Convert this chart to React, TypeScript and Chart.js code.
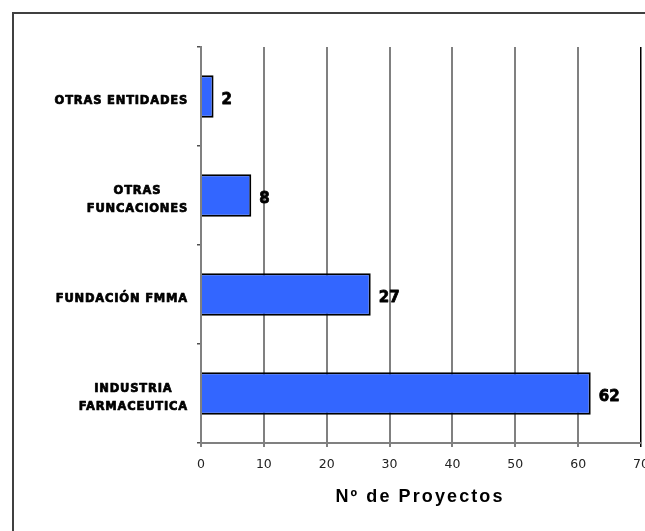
import React, { useEffect, useRef } from 'react';
import { Chart, registerables } from 'chart.js';

Chart.register(...registerables);

const categories: (string | string[])[] = [
  'OTRAS ENTIDADES',
  ['OTRAS', 'FUNCACIONES'],
  'FUNDACIÓN FMMA',
  ['INDUSTRIA', 'FARMACEUTICA'],
];
const projectCounts = [2, 8, 27, 62];
const xTicks = [0, 10, 20, 30, 40, 50, 60, 70];
const axisTitle = 'Nº de Proyectos';

const categoryLabelPlugin = {
  id: 'categoryLabels',
  afterDraw(chart: any) {
    const ctx = chart.ctx;
    const y = chart.scales.y;
    ctx.save();
    ctx.font = 'bold 11.5px "DejaVu Sans"';
    (ctx as any).letterSpacing = '0.8px';
    ctx.fillStyle = '#000';
    ctx.strokeStyle = '#000';
    ctx.lineWidth = 0.7;
    ctx.lineJoin = 'round';
    ctx.textAlign = 'center';
    ctx.textBaseline = 'alphabetic';
    const right = y.right - 13;
    const lh = 18;
    categories.forEach((lab, i) => {
      const lines = Array.isArray(lab) ? lab : [lab];
      const widths = lines.map((l) => ctx.measureText(l).width);
      const maxW = Math.max(...widths);
      const cx = right - maxW / 2;
      const cy = y.getPixelForValue(i) + 3;
      lines.forEach((l, k) => {
        const lc = cy + (k - (lines.length - 1) / 2) * lh;
        ctx.fillText(l, cx, lc + 4.2);
        ctx.strokeText(l, cx, lc + 4.2);
      });
    });
    ctx.restore();
  },
};

const valueLabelPlugin = {
  id: 'valueLabels',
  afterDatasetsDraw(chart: any) {
    const ctx = chart.ctx;
    const meta = chart.getDatasetMeta(0);
    ctx.save();
    ctx.font = 'bold 15px "DejaVu Sans"';
    ctx.fillStyle = '#000';
    ctx.strokeStyle = '#000';
    ctx.lineWidth = 0.8;
    ctx.lineJoin = 'round';
    ctx.textAlign = 'left';
    ctx.textBaseline = 'alphabetic';
    meta.data.forEach((bar: any, i: number) => {
      const t = String(projectCounts[i]);
      ctx.fillText(t, bar.x + 8, bar.y + 7.5);
      ctx.strokeText(t, bar.x + 8, bar.y + 7.5);
    });
    ctx.restore();
  },
};

const axisTitlePlugin = {
  id: 'axisTitle',
  afterDraw(chart: any) {
    const ctx = chart.ctx;
    const x = chart.scales.x;
    ctx.save();
    ctx.font = 'bold 18px "Liberation Sans"';
    (ctx as any).letterSpacing = '2.1px';
    ctx.fillStyle = '#000';
    ctx.textAlign = 'center';
    ctx.textBaseline = 'alphabetic';
    ctx.fillText(axisTitle, (x.left + x.right) / 2 - 1, x.top + 59);
    ctx.restore();
  },
};

export default function App() {
  const canvasRef = useRef<HTMLCanvasElement | null>(null);

  useEffect(() => {
    if (!canvasRef.current) return;
    const chart = new Chart(canvasRef.current, {
      type: 'bar',
      data: {
        labels: categories as any,
        datasets: [
          {
            data: projectCounts,
            backgroundColor: '#3366FF',
            borderColor: '#000000',
            borderWidth: 2,
            categoryPercentage: 0.43,
            barPercentage: 1,
          },
        ],
      },
      options: {
        indexAxis: 'y',
        animation: false,
        responsive: false,
        layout: { padding: { top: 47, left: 0, right: 59, bottom: 0 } },
        plugins: {
          legend: { display: false },
          tooltip: { enabled: false },
        },
        scales: {
          x: {
            min: 0,
            max: 70,
            afterBuildTicks(s: any) {
              s.ticks = xTicks.map((v) => ({ value: v }));
            },
            afterFit(s: any) {
              s.height = 88;
            },
            grid: {
              color: (c: any) => (c.tick && c.tick.value === 70 ? '#000000' : '#808080'),
              lineWidth: (c: any) => (c.tick && c.tick.value === 70 ? 1.5 : 2),
              tickLength: 4,
              drawTicks: true,
            },
            border: { display: true, color: '#808080', width: 2 },
            ticks: {
              font: { family: 'DejaVu Sans', size: 12.5 },
              color: '#222',
              padding: 10,
              maxRotation: 0,
            },
          },
          y: {
            afterFit(s: any) {
              s.width = 201;
            },
            grid: {
              drawOnChartArea: false,
              drawTicks: true,
              tickLength: 4,
              color: '#505050',
              lineWidth: 1.5,
              offset: true,
            },
            border: { display: true, color: '#808080', width: 2 },
            ticks: { display: false },
          },
        },
      },
      plugins: [categoryLabelPlugin, valueLabelPlugin, axisTitlePlugin],
    });
    return () => chart.destroy();
  }, []);

  return (
    <div
      style={{
        position: 'absolute',
        left: 0,
        top: 0,
        width: 645,
        height: 531,
        overflow: 'hidden',
        background: '#fff',
      }}
    >
      <canvas ref={canvasRef} width={700} height={531} style={{ display: 'block' }} />
      <div
        style={{
          position: 'absolute',
          left: 12,
          top: 12,
          width: 700,
          height: 600,
          border: '2px solid #404040',
          pointerEvents: 'none',
        }}
      />
    </div>
  );
}
